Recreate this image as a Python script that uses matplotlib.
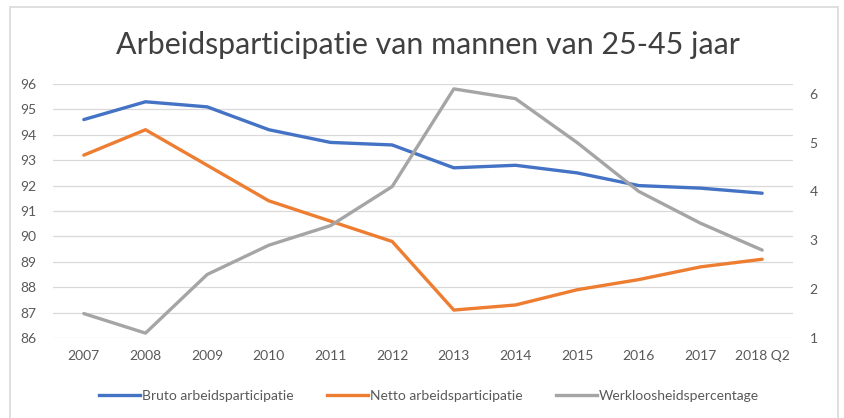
import matplotlib
matplotlib.use("Agg")
import matplotlib.pyplot as plt
from matplotlib.patches import Rectangle
from matplotlib.lines import Line2D

plt.rcParams['font.family'] = ['Lato', 'DejaVu Sans']

# DATA
years = ['2007', '2008', '2009', '2010', '2011', '2012', '2013', '2014',
         '2015', '2016', '2017', '2018 Q2']
bruto = [94.6, 95.3, 95.1, 94.2, 93.7, 93.6, 92.7, 92.8, 92.5, 92.0, 91.9, 91.7]
netto = [93.2, 94.2, 92.8, 91.4, 90.6, 89.8, 87.1, 87.3, 87.9, 88.3, 88.8, 89.1]
werkloos = [1.5, 1.1, 2.3, 2.9, 3.3, 4.1, 6.1, 5.9, 5.0, 4.0, 3.35, 2.8]
left_ticks = list(range(86, 97))
right_ticks = [1, 2, 3, 4, 5, 6]

BLUE = "#4472C4"
ORANGE = "#ED7D31"
GREY = "#A5A5A5"
TXT = "#595959"

fig = plt.figure(figsize=(8.44, 4.18), dpi=100)
ax = fig.add_axes([53/844, 1-338/418, 740/844, 254/418])
ax2 = ax.twinx()

x = list(range(len(years)))
ax.plot(x, bruto, color=BLUE, lw=2.4, solid_capstyle='round', zorder=3)
ax.plot(x, netto, color=ORANGE, lw=2.4, solid_capstyle='round', zorder=3)
ax2.plot(x, werkloos, color=GREY, lw=2.4, solid_capstyle='round', zorder=3)

ax.set_xlim(-0.5, len(years) - 0.5)
ax.set_ylim(86, 96)
ax.set_yticks(left_ticks)
ax2.set_ylim(1, 6.2)
ax2.set_yticks(right_ticks)
ax.set_xticks(x)
ax.set_xticklabels(years)

ax.grid(axis='y', color="#D9D9D9", lw=0.9)
ax.set_axisbelow(True)
for a in (ax, ax2):
    for s in a.spines.values():
        s.set_visible(False)
    a.tick_params(length=0, labelsize=10, colors=TXT)
ax.tick_params(axis='y', pad=12)
ax.tick_params(axis='x', pad=9)
ax2.tick_params(axis='y', pad=12)

fig.text(0.507, 1-45/418, "Arbeidsparticipatie van mannen van 25-45 jaar",
         ha='center', va='center', fontsize=21.9, color="#404040")

handles = [Line2D([], [], color=BLUE, lw=2.4),
           Line2D([], [], color=ORANGE, lw=2.4),
           Line2D([], [], color=GREY, lw=2.4)]
fig.legend(handles, ["Bruto arbeidsparticipatie", "Netto arbeidsparticipatie",
                     "Werkloosheidspercentage"],
           loc='center', bbox_to_anchor=(0.508, 1-396/418), ncol=3, frameon=False,
           fontsize=10, labelcolor=TXT, handlelength=3.0, handletextpad=0.1,
           columnspacing=2.4)

fig.add_artist(Rectangle((10/844, -0.05), 828/844, 1.05 - 7/418,
                         transform=fig.transFigure, fill=False,
                         edgecolor="#D9D9D9", lw=1.2))

fig.savefig("out.png", dpi=100)
